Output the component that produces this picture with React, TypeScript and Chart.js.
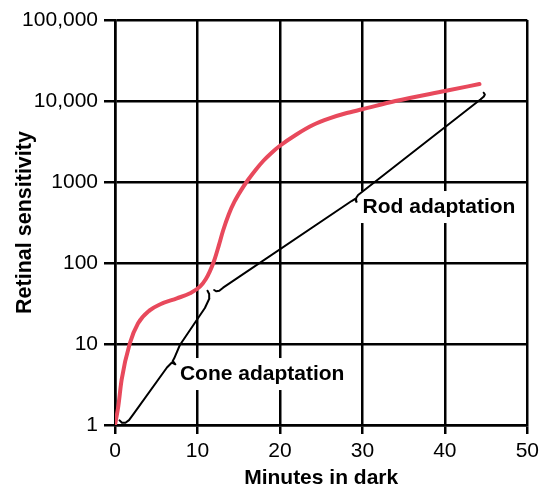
import React, { useEffect, useRef } from "react";
import { Chart, registerables } from "chart.js";

Chart.register(...registerables);

// Red sensitivity curve (minutes in dark vs retinal sensitivity)
const minutes = [0, 0.4, 0.8, 1.8, 2.8, 4.2, 5.5, 7.5, 9.1, 10.3, 11.0, 11.5, 12.0, 12.6, 13.1, 13.8, 14.5, 15.3, 16.1, 17, 18, 19, 20, 22, 24, 26, 28, 30, 34, 40, 44.2];
const sensitivity = [1, 1.7, 3.6, 10.2, 18, 26, 31, 36.6, 42.3, 51, 63, 79, 105, 166, 250, 400, 575, 795, 1050, 1390, 1830, 2300, 2800, 3860, 5050, 6100, 7050, 7900, 9980, 13300, 16200];

// Cone adaptation brace (black)
const coneBraceX = [0.55, 0.85, 1.27, 1.7, 2.3, 6.3, 6.72, 6.9, 7.32, 7.0, 7.18, 7.87, 10.9, 11.44, 11.42, 11.22];
const coneBraceY = [1.14, 1.065, 1.065, 1.15, 1.39, 5.13, 5.66, 5.91, 5.62, 6.17, 6.66, 9.72, 27.8, 36.5, 41.4, 45.5];

// Rod adaptation brace (black)
const rodBraceX = [12.02, 12.29, 12.65, 13.11, 28.69, 29.12, 29.3, 29.24, 29.48, 44.31, 44.73, 44.85, 44.71];
const rodBraceY = [46.4, 44.7, 45.4, 49.6, 582, 617, 570, 635, 691, 10440, 11370, 12030, 12660];

// Axis ticks
const xTicks = [0, 10, 20, 30, 40, 50];
const yTicks = [1, 10, 100, 1000, 10000, 100000];
const yTickLabels = ["1", "10", "100", "1000", "10,000", "100,000"];

// Brace labels (anchored in data coordinates)
const labelTexts = ["Cone adaptation", "Rod adaptation"];
const labelX = [7.87, 30.02];
const labelY = [4.26, 491];

const FONT = '"Liberation Sans", Arial, Helvetica, sans-serif';

const toPoints = (xs: number[], ys: number[]) => xs.map((x, i) => ({ x, y: ys[i] }));

const labelPlugin = {
  id: "braceLabels",
  beforeDatasetsDraw(chart: any) {
    const { ctx } = chart;
    const xs = chart.scales.x;
    const ys = chart.scales.y;
    ctx.save();
    ctx.font = `bold 21px ${FONT}`;
    ctx.textBaseline = "middle";
    ctx.textAlign = "left";
    labelTexts.forEach((t, i) => {
      const px = xs.getPixelForValue(labelX[i]);
      const py = ys.getPixelForValue(labelY[i]);
      const w = ctx.measureText(t).width;
      ctx.fillStyle = "#ffffff";
      ctx.fillRect(px - 4, py - 16, w + 9, 32);
      ctx.fillStyle = "#000000";
      ctx.fillText(t, px, py);
    });
    ctx.restore();
  },
};

export default function App() {
  const canvasRef = useRef<HTMLCanvasElement | null>(null);

  useEffect(() => {
    document.body.style.margin = "0";
    const canvas = canvasRef.current;
    if (!canvas) return;
    const chart = new Chart(canvas, {
      type: "line",
      data: {
        datasets: [
          {
            data: toPoints(minutes, sensitivity),
            borderColor: "#E8495C",
            borderWidth: 4,
            pointRadius: 0,
            cubicInterpolationMode: "monotone",
            borderCapStyle: "round",
          },
          {
            data: toPoints(coneBraceX, coneBraceY),
            borderColor: "#000000",
            borderWidth: 2,
            pointRadius: 0,
            tension: 0,
            borderJoinStyle: "round",
            borderCapStyle: "round",
          },
          {
            data: toPoints(rodBraceX, rodBraceY),
            borderColor: "#000000",
            borderWidth: 2,
            pointRadius: 0,
            tension: 0,
            borderJoinStyle: "round",
            borderCapStyle: "round",
          },
        ],
      },
      options: {
        animation: false,
        responsive: true,
        maintainAspectRatio: false,
        devicePixelRatio: 1,
        layout: { padding: { top: 20, right: 16, bottom: 0, left: 0 } },
        plugins: {
          legend: { display: false },
          tooltip: { enabled: false },
        },
        scales: {
          x: {
            type: "linear",
            min: 0,
            max: 50,
            afterBuildTicks: (s: any) => {
              s.ticks = xTicks.map((v) => ({ value: v }));
            },
            afterFit: (s: any) => {
              s.height = 63;
            },
            ticks: {
              color: "#000",
              font: { family: FONT, size: 21 },
              padding: 5,
              maxRotation: 0,
              autoSkip: false,
            },
            grid: { color: "#000", lineWidth: 2.5, tickLength: 9, drawTicks: true },
            border: { color: "#000", width: 2.5 },
            title: {
              display: true,
              text: "Minutes in dark",
              color: "#000",
              font: { family: FONT, size: 21, weight: "bold", lineHeight: 1 },
              padding: { top: 0, bottom: -1 },
            },
          },
          y: {
            type: "logarithmic",
            min: 1,
            max: 100000,
            afterBuildTicks: (s: any) => {
              s.ticks = yTicks.map((v) => ({ value: v }));
            },
            afterFit: (s: any) => {
              s.width = 115;
            },
            ticks: {
              color: "#000",
              font: { family: FONT, size: 21 },
              padding: 6,
              autoSkip: false,
              callback: (v: any) => {
                const i = yTicks.indexOf(Number(v));
                return i >= 0 ? yTickLabels[i] : "";
              },
            },
            grid: { color: "#000", lineWidth: 2.5, tickLength: 11, drawTicks: true },
            border: { color: "#000", width: 2.5 },
            title: {
              display: true,
              text: "Retinal sensitivity",
              color: "#000",
              font: { family: FONT, size: 21.5, weight: "bold", lineHeight: 1.2 },
              padding: { top: 12.5, bottom: 0 },
            },
          },
        },
      },
      plugins: [labelPlugin],
    });
    return () => chart.destroy();
  }, []);

  return (
    <div style={{ position: "absolute", left: 0, top: 0, width: 544, height: 488 }}>
      <canvas ref={canvasRef} />
    </div>
  );
}
